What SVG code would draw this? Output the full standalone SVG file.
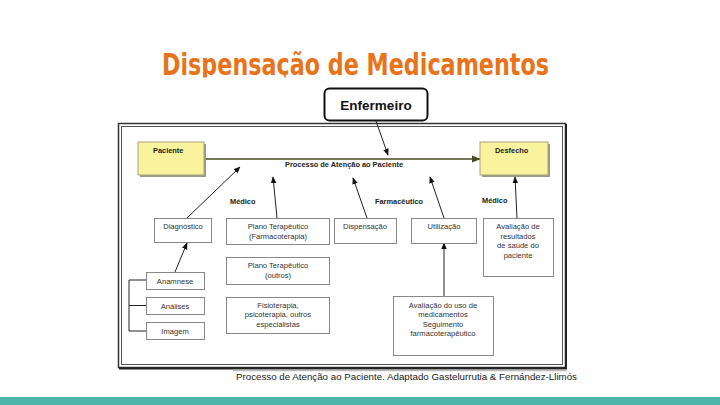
<svg xmlns="http://www.w3.org/2000/svg" width="720" height="405" viewBox="0 0 720 405">
<defs>
<style>
.t{font-family:"Liberation Sans",Arial,sans-serif;font-size:7.6px;fill:#333;text-anchor:middle}
.b{font-family:"Liberation Sans",Arial,sans-serif;font-size:7.4px;font-weight:bold;fill:#222}
.box{fill:#fff;stroke:#888;stroke-width:1}
.yel{fill:#f8f39c;stroke:#a8a37a;stroke-width:1}
.sh{fill:#9a9a8a}
.ln{stroke:#222;stroke-width:1;fill:none}
</style>
<marker id="ah" viewBox="0 0 10 10" refX="9" refY="5" markerWidth="7" markerHeight="7" orient="auto" markerUnits="userSpaceOnUse"><path d="M0,1 L10,5 L0,9 z" fill="#111"/></marker>
<marker id="ah2" viewBox="0 0 10 10" refX="9" refY="5" markerWidth="9" markerHeight="9" orient="auto" markerUnits="userSpaceOnUse"><path d="M0,1 L10,5 L0,9 z" fill="#4a4a22"/></marker>
<clipPath id="tc"><rect x="0" y="0" width="720" height="77.5"/></clipPath>
</defs>
<rect width="720" height="405" fill="#fff"/>
<g id="title" clip-path="url(#tc)">
<text x="162" y="75" font-family="'DejaVu Sans',sans-serif" font-weight="bold" font-size="31" fill="#e8731a" textLength="387" lengthAdjust="spacingAndGlyphs">Dispensação de Medicamentos</text>
</g>
<g id="frame">
<rect x="118.5" y="123.5" width="447" height="244" fill="none" stroke="#333" stroke-width="1.5"/>
<rect x="121.5" y="126.5" width="441" height="238" fill="none" stroke="#555" stroke-width="1"/>
<line x1="566" y1="124" x2="566" y2="369" stroke="#222" stroke-width="2"/>
<line x1="119" y1="368.5" x2="567" y2="368.5" stroke="#222" stroke-width="2"/>
<line x1="233" y1="370.5" x2="567" y2="370.5" stroke="#bbb" stroke-width="1.5"/>
</g>
<g id="connectors">
<line x1="204" y1="159" x2="480" y2="159" stroke="#4a4a22" stroke-width="1.6" marker-end="url(#ah2)"/>
<line class="ln" x1="376" y1="121" x2="388" y2="155" stroke-width="1.5" marker-end="url(#ah)"/>
<line class="ln" x1="187" y1="218" x2="240" y2="167" marker-end="url(#ah)"/>
<line class="ln" x1="277" y1="218" x2="273" y2="177" marker-end="url(#ah)"/>
<line class="ln" x1="367" y1="218" x2="353" y2="178" marker-end="url(#ah)"/>
<line class="ln" x1="444" y1="218" x2="430" y2="177" marker-end="url(#ah)"/>
<line class="ln" x1="517" y1="218" x2="515" y2="177" marker-end="url(#ah)"/>
<line class="ln" x1="175" y1="272" x2="187" y2="243" marker-end="url(#ah)"/>
<line class="ln" x1="444" y1="296" x2="444" y2="243" marker-end="url(#ah)"/>
<path class="ln" d="M146,280 H129 V331 H146 M129,305.5 H146"/>
</g>
<g id="enfermeiro">
<rect x="324.5" y="88.5" width="103" height="32" rx="5" fill="#fff" stroke="#111" stroke-width="2"/>
<text x="376" y="109.5" font-family="'Liberation Sans',Arial,sans-serif" font-weight="bold" font-size="13.5" fill="#111" text-anchor="middle">Enfermeiro</text>
</g>
<g id="paciente">
<rect class="sh" x="140" y="144" width="66" height="33"/>
<rect class="yel" x="138" y="142" width="66" height="33"/>
<text class="b" x="153" y="153">Paciente</text>
</g>
<g id="desfecho">
<rect class="sh" x="482" y="144" width="68" height="33"/>
<rect class="yel" x="480" y="142" width="68" height="33"/>
<text class="b" x="495" y="153">Desfecho</text>
</g>
<g id="labels">
<text class="b" x="285" y="167">Processo de Atenção ao Paciente</text>
<text class="b" x="230" y="204">Médico</text>
<text class="b" x="375" y="204">Farmacêutico</text>
<text class="b" x="482" y="203">Médico</text>
</g>
<g id="diagnostico">
<rect class="box" x="154.5" y="218.5" width="57" height="24"/>
<text class="t" x="183" y="229">Diagnóstico</text>
</g>
<g id="plano-farmaco">
<rect class="box" x="226.5" y="218.5" width="103" height="26"/>
<text class="t" x="278" y="229">Plano Terapêutico</text>
<text class="t" x="278" y="239">(Farmacoterapia)</text>
</g>
<g id="dispensacao">
<rect class="box" x="334.5" y="218.5" width="62" height="25"/>
<text class="t" x="365" y="229">Dispensação</text>
</g>
<g id="utilizacao">
<rect class="box" x="411.5" y="218.5" width="65" height="25"/>
<text class="t" x="444" y="229">Utilização</text>
</g>
<g id="avaliacao-resultados">
<rect class="box" x="483.5" y="218.5" width="70" height="58"/>
<text class="t" x="518" y="229">Avaliação de</text>
<text class="t" x="518" y="238.5">resultados</text>
<text class="t" x="518" y="248">de saúde do</text>
<text class="t" x="518" y="257.5">paciente</text>
</g>
<g id="plano-outros">
<rect class="box" x="226.5" y="257.5" width="103" height="27"/>
<text class="t" x="278" y="268">Plano Terapêutico</text>
<text class="t" x="278" y="278">(outros)</text>
</g>
<g id="anamnese">
<rect class="box" x="146.5" y="272.5" width="58" height="17"/>
<text class="t" x="175" y="284">Anamnese</text>
</g>
<g id="analises">
<rect class="box" x="146.5" y="297.5" width="58" height="17"/>
<text class="t" x="175" y="309">Análises</text>
</g>
<g id="imagem">
<rect class="box" x="146.5" y="322.5" width="58" height="17"/>
<text class="t" x="175" y="334">Imagem</text>
</g>
<g id="fisioterapia">
<rect class="box" x="226.5" y="297.5" width="103" height="36"/>
<text class="t" x="278" y="307.5">Fisioterapia,</text>
<text class="t" x="278" y="317">psicoterapia, outros</text>
<text class="t" x="278" y="326.5">especialistas</text>
</g>
<g id="avaliacao-uso">
<rect class="box" x="393.5" y="296.5" width="100" height="59"/>
<text class="t" x="443" y="307.5">Avaliação do uso de</text>
<text class="t" x="443" y="317">medicamentos</text>
<text class="t" x="443" y="326.5">Seguimento</text>
<text class="t" x="443" y="336">farmacoterapêutico</text>
</g>
<g id="caption">
<text x="236" y="379.5" font-family="'Liberation Sans',Arial,sans-serif" font-size="9.4" fill="#222" textLength="341" lengthAdjust="spacingAndGlyphs">Processo de Atenção ao Paciente. Adaptado Gastelurrutia &amp; Fernández-Llimós</text>
</g>
<rect id="bar" x="0" y="397" width="720" height="8" fill="#4fb5aa"/>
</svg>
